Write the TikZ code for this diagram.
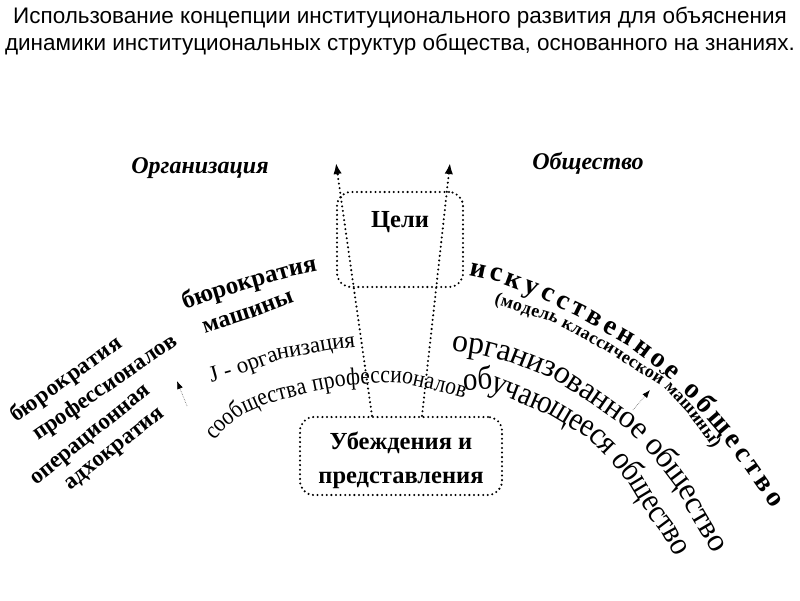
\documentclass[tikz,border=0pt]{standalone}
\usepackage{fontspec}
\setmainfont{Liberation Serif}
\newfontfamily\titlefont{Liberation Sans}
\newfontfamily\narrowserif[FakeStretch=0.88]{Liberation Serif}
\usetikzlibrary{decorations.text,arrows.meta}
\newcommand\fsz[1]{\fontsize{#1}{#1}\selectfont}
\begin{document}
\begin{tikzpicture}[x=1pt,y=-1pt,
  dotbox/.style={draw, line width=2.3pt, dash pattern=on 0pt off 4.6pt, line cap=round, rounded corners=14pt, inner sep=0pt},
  bigarrow/.style={line width=2.3pt, dash pattern=on 0pt off 4.6pt, line cap=round, -{Latex[length=11pt,width=8.5pt]}},
  smallarrow/.style={gray, line width=0.7pt, densely dotted, -{Latex[length=8pt,width=6pt,black]}},
  arctext/.style n args={3}{decorate, decoration={text along path, text={|#1|#2}, text align={fit to path}, raise=#3}},
  title/.style={font=\titlefont\fsz{22.5}},
  head/.style={font=\fsz{24}\bfseries\itshape},
  boxtext/.style={font=\fontsize{24.5}{34}\selectfont\bfseries, align=center}
]
\useasboundingbox (0,0) rectangle (800,600);
\fill[white] (0,0) rectangle (800,600);

% title
\node[title] (t1) at (400,18) {Использование концепции институционального развития для объяснения};
\node[title] (t2) at (400,45) {динамики институциональных структур общества, основанного на знаниях.};

% headings
\node[head] (org) at (200,168) {Организация};
\node[head] (soc) at (588,163) {Общество};

% boxes
\node[dotbox, minimum width=126pt, minimum height=95pt] (goals) at (400,239.5) {};
\node[boxtext] (goalstxt) at (400,222) {Цели};
\node[dotbox, minimum width=202pt, minimum height=78pt] (beliefs) at (401,456) {};
\node[boxtext] (beliefstxt) at (401,460) {Убеждения и\\представления};

% big arrows
\coordinate (lt) at (336,163);
\coordinate (rt) at (450,163);
\draw[bigarrow] ([xshift=-29pt]beliefs.north) -- (lt);
\draw[bigarrow] ([xshift=21pt]beliefs.north) -- (rt);

% small arrows
\coordinate (ls0) at (187,406); \coordinate (ls1) at (177,381);
\draw[smallarrow] (ls0) -- (ls1);
\coordinate (rs0) at (633,410); \coordinate (rs1) at (650,390);
\draw[smallarrow] (rs0) -- (rs1);

% left column
\path[arctext={\fsz{23}\bfseries}{бюрократия}{-5.5pt}] (13,418.5) -- (120,341.5);
\path[arctext={\fsz{23}\bfseries}{профессионалов}{-5.5pt}] (35,436.4) -- (175,339.6);
\path[arctext={\fsz{23}\bfseries}{операционная}{-5.5pt}] (33,481) -- (145,391);
\path[arctext={\fsz{23}\bfseries}{адхократия}{-5.5pt}] (67,486) -- (158,414);

% middle left
\path[arctext={\fsz{25}\bfseries}{бюрократия}{-6pt}] (183,304) -- (207,295) -- (247,283) -- (293,270) -- (313,266);
\path[arctext={\fsz{24}\bfseries}{машины}{-6pt}] (203,328) -- (243,315) -- (290,297);
\path[arctext={\fsz{23}}{J - организация}{-5.5pt}] (210,377) -- (242,368) -- (283,353) -- (327,345) -- (352,342);
\path[arctext={\narrowserif\fsz{24.5}}{сообщества профессионалов}{-5.5pt}] (210,437) -- (223,423) -- (240,410) -- (267,398) -- (305,388) -- (345,380) -- (383,377) -- (405,378) -- (445,387) -- (466,393);

% right side
\path[arctext={\fsz{28}\bfseries}{искусственное общество}{-6.5pt}] (470,269) -- (498,275) -- (538,290) -- (583,312) -- (628,338) -- (660,362) -- (693,392) -- (723,427) -- (748,462) -- (778,505);
\path[arctext={\fsz{18}\bfseries}{(модель классической машины)}{-4pt}] (495,300) -- (527,310) -- (553,318) -- (607,347) -- (640,368) -- (667,385) -- (690,410) -- (710,437) -- (716,447);
\path[arctext={\fsz{32}}{организованное общество}{-7.5pt}] (453,343) -- (480,347) -- (518,357) -- (558,373) -- (595,397) -- (632,423) -- (657,450) -- (682,483) -- (698,513) -- (718,547);
\path[arctext={\narrowserif\fsz{33}}{обучающееся общество}{-7pt}] (463,383) -- (487,382) -- (513,392) -- (555,410) -- (592,432) -- (617,457) -- (637,483) -- (655,513) -- (670,533) -- (681,553);
\end{tikzpicture}
\end{document}
